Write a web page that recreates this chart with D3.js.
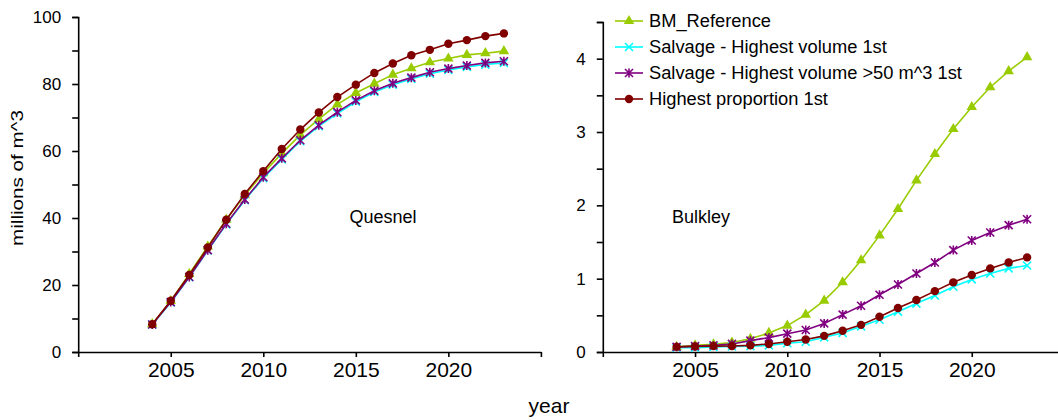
<!DOCTYPE html>
<html>
<head>
<meta charset="utf-8">
<script src="https://cdn.jsdelivr.net/npm/d3@7/dist/d3.min.js"></script>
<style>
  html, body { margin: 0; padding: 0; background: #fff; }
  svg { display: block; font-family: "Liberation Sans", Arial, sans-serif; }
</style>
</head>
<body>
<svg id="chart" width="1058" height="420"></svg>
<script>
// Years simulated
const years = [2004, 2005, 2006, 2007, 2008, 2009, 2010, 2011, 2012, 2013,
               2014, 2015, 2016, 2017, 2018, 2019, 2020, 2021, 2022, 2023];

// Scenario names (legend order)
const seriesNames = [
  "BM_Reference",
  "Salvage - Highest volume 1st",
  "Salvage - Highest volume >50 m^3 1st",
  "Highest proportion 1st"
];

// Quesnel cumulative volume (millions of m^3)
const quesnelRef   = [8.3, 15.2, 23.3, 31.5, 39.5, 46.8, 53.4, 59.3, 64.8, 69.5, 73.9, 77.3, 80.1, 82.8, 84.7, 86.5, 87.6, 88.7, 89.2, 89.8];
const quesnelHv    = [8.2, 14.8, 22.3, 30.3, 38.1, 45.3, 51.9, 57.5, 62.9, 67.4, 71.2, 74.7, 77.6, 79.8, 81.5, 83.1, 84.2, 85.1, 85.8, 86.3];
const quesnelHv50  = [8.2, 14.9, 22.4, 30.4, 38.3, 45.5, 52.2, 57.8, 63.2, 67.7, 71.6, 75.1, 78.0, 80.2, 81.9, 83.5, 84.6, 85.5, 86.3, 86.8];
const quesnelProp  = [8.3, 15.3, 23.0, 31.2, 39.5, 47.2, 54.0, 60.6, 66.4, 71.5, 76.1, 79.8, 83.3, 86.1, 88.6, 90.2, 92.0, 93.1, 94.3, 95.1];

// Bulkley cumulative volume (millions of m^3)
const bulkleyRef   = [0.07, 0.09, 0.105, 0.13, 0.18, 0.26, 0.36, 0.51, 0.70, 0.95, 1.25, 1.59, 1.95, 2.34, 2.70, 3.04, 3.34, 3.61, 3.83, 4.02];
const bulkleyHv    = [0.06, 0.06, 0.07, 0.075, 0.08, 0.09, 0.12, 0.14, 0.20, 0.26, 0.35, 0.44, 0.55, 0.66, 0.77, 0.89, 0.99, 1.07, 1.14, 1.18];
const bulkleyHv50  = [0.07, 0.08, 0.09, 0.11, 0.155, 0.196, 0.25, 0.30, 0.39, 0.51, 0.63, 0.78, 0.92, 1.07, 1.22, 1.39, 1.52, 1.63, 1.73, 1.81];
const bulkleyProp  = [0.07, 0.075, 0.08, 0.082, 0.09, 0.11, 0.14, 0.17, 0.22, 0.29, 0.37, 0.48, 0.60, 0.71, 0.83, 0.95, 1.05, 1.14, 1.22, 1.29];

// Axis ticks
const xTickYears   = [2000, 2005, 2010, 2015, 2020, 2025];
const xTickLabels  = [2005, 2010, 2015, 2020];
const quesnelTicks = [0, 10, 20, 30, 40, 50, 60, 70, 80, 90, 100];
const quesnelLabels = [0, 20, 40, 60, 80, 100];
const bulkleyTicks = [0, 0.5, 1, 1.5, 2, 2.5, 3, 3.5, 4, 4.5];
const bulkleyLabels = [0, 1, 2, 3, 4];

// Styling per scenario
const styles = [
  { color: "#99cc00", marker: "triangle" },
  { color: "#00ffff", marker: "x" },
  { color: "#800080", marker: "asterisk" },
  { color: "#800000", marker: "circle" }
];

const svg = d3.select("#chart");

function drawMarker(g, type, color) {
  if (type === "circle") {
    g.append("circle").attr("r", 4.2).attr("fill", color);
  } else if (type === "triangle") {
    g.append("path").attr("d", d3.symbol(d3.symbolTriangle, 48)()).attr("fill", color);
  } else if (type === "x") {
    g.append("path").attr("d", "M-4,-4L4,4M-4,4L4,-4")
      .attr("stroke", color).attr("stroke-width", 1.6).attr("fill", "none");
  } else {
    g.append("path").attr("d", "M-4,-4L4,4M-4,4L4,-4M0,-4.5L0,4.5")
      .attr("stroke", color).attr("stroke-width", 1.6).attr("fill", "none");
  }
}

function panel(opts) {
  const x = d3.scaleLinear().domain([2000, 2025]).range(opts.xRange);
  const y = d3.scaleLinear().domain(opts.yDomain).range([352, opts.yTop]);
  const g = svg.append("g");

  // y axis
  const yAxis = d3.axisLeft(y).tickValues(opts.yTicks).tickSize(6)
    .tickFormat(d => opts.yLabels.includes(d) ? d3.format("")(d) : "");
  const ya = g.append("g").attr("transform", `translate(${opts.xRange[0]},0)`).call(yAxis);
  ya.select(".domain").attr("stroke-width", 1.6);
  ya.selectAll(".tick line").attr("stroke-width", 1.6);
  ya.selectAll(".tick text").attr("font-size", 17).attr("x", -17)
    .attr("font-family", "'Liberation Sans', Arial, sans-serif");

  // x axis
  const xAxis = d3.axisBottom(x).tickValues(xTickYears).tickSize(5).tickSizeOuter(0)
    .tickFormat(d => xTickLabels.includes(d) ? String(d) : "");
  const xa = g.append("g").attr("transform", "translate(0,352)").call(xAxis);
  xa.select(".domain").attr("stroke-width", 1.6);
  xa.selectAll(".tick line").attr("stroke-width", 1.6);
  xa.selectAll(".tick text").attr("font-size", 21).attr("y", 10)
    .attr("font-family", "'Liberation Sans', Arial, sans-serif");

  const line = d3.line().x((d, i) => x(years[i])).y(d => y(d));
  opts.series.forEach((vals, k) => {
    const st = styles[k];
    g.append("path").datum(vals).attr("d", line)
      .attr("fill", "none").attr("stroke", st.color).attr("stroke-width", 1.6);
    vals.forEach((v, i) => {
      const m = g.append("g").attr("transform", `translate(${x(years[i])},${y(v)})`);
      drawMarker(m, st.marker, st.color);
    });
  });

  g.append("text").attr("x", opts.label[0]).attr("y", opts.label[1])
    .attr("text-anchor", "middle").attr("font-size", 18).text(opts.name);
}

panel({
  name: "Quesnel",
  xRange: [78.2, 540.9],
  yDomain: [0, 100], yTop: 17,
  yTicks: quesnelTicks, yLabels: quesnelLabels,
  series: [quesnelRef, quesnelHv, quesnelHv50, quesnelProp],
  label: [383, 223]
});

panel({
  name: "Bulkley",
  xRange: [602.8, 1064],
  yDomain: [0, 4.5], yTop: 22,
  yTicks: bulkleyTicks, yLabels: bulkleyLabels,
  series: [bulkleyRef, bulkleyHv, bulkleyHv50, bulkleyProp],
  label: [701, 223]
});

// Axis titles
svg.append("text").attr("x", 549).attr("y", 413).attr("text-anchor", "middle")
  .attr("font-size", 21).text("year");
svg.append("text").attr("transform", "translate(23,178) rotate(-90)")
  .attr("text-anchor", "middle").attr("font-size", 17)
  .attr("textLength", 136).attr("lengthAdjust", "spacingAndGlyphs")
  .text("millions of m^3");

// Legend
const legend = svg.append("g").attr("transform", "translate(615,21)");
seriesNames.forEach((name, k) => {
  const row = legend.append("g").attr("transform", `translate(0,${k * 26})`);
  row.append("line").attr("x1", 0).attr("x2", 28).attr("y1", 0).attr("y2", 0)
    .attr("stroke", styles[k].color).attr("stroke-width", 1.6);
  const m = row.append("g").attr("transform", "translate(14,0)");
  drawMarker(m, styles[k].marker, styles[k].color);
  row.append("text").attr("x", 34).attr("y", 6).attr("font-size", 18.3).text(name);
});
</script>
</body>
</html>
